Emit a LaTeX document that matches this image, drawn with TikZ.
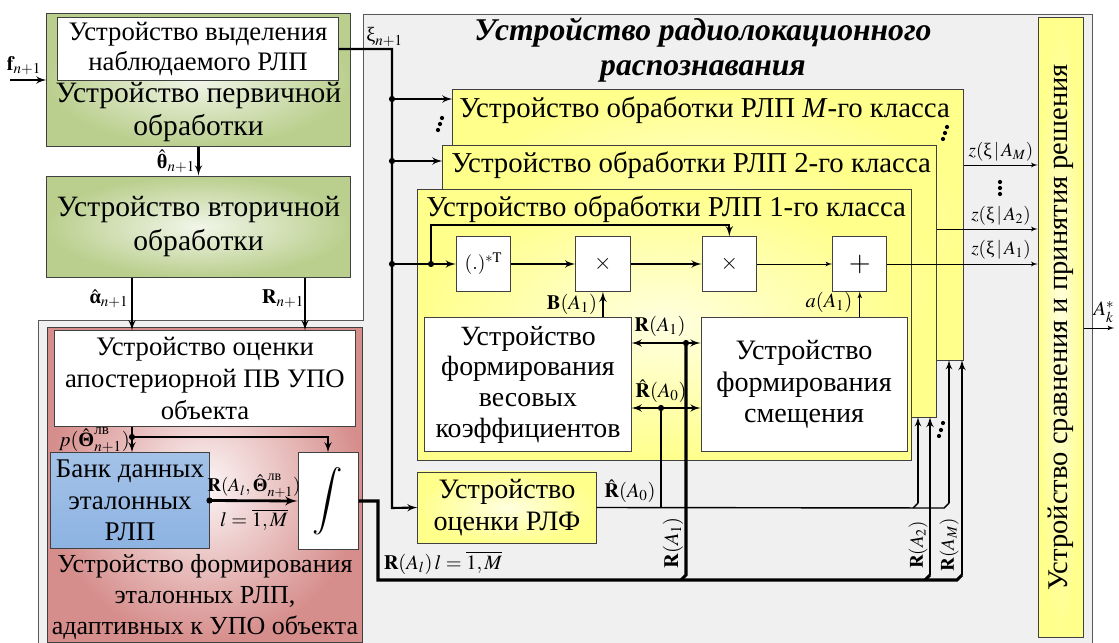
\documentclass[tikz,border=0pt]{standalone}
\usepackage{amsmath}
\usepackage{mathptmx}
\usepackage{fontspec}
\setmainfont{Liberation Serif}
\usetikzlibrary{arrows, calc, positioning}
\definecolor{greenedge}{HTML}{BACF8E}
\definecolor{pinkedge}{HTML}{D68E8C}
\definecolor{bankblue}{HTML}{8DB3E2}
\definecolor{yeledge}{HTML}{FFFF8C}
\definecolor{framegray}{HTML}{F0F0F0}
\tikzstyle{outerframe} = [draw=black!65, fill=framegray, line width=0.7pt]
\tikzstyle{block} = [rectangle, draw=black!75, line width=0.7pt, align=center, inner sep=1pt, font=\fontsize{20}{22.5}\selectfont]
\tikzstyle{greenbox} = [block, inner color=white!80!greenedge, outer color=greenedge]
\tikzstyle{pinkbox} = [block, inner color=white!92!pinkedge, outer color=pinkedge]
\tikzstyle{yelbox} = [block, inner color=white!88!yellow, outer color=yeledge]
\tikzstyle{bankbox} = [block, top color=bankblue!80, bottom color=bankblue]
\tikzstyle{whitebox} = [block, fill=white]
\tikzstyle{opbox} = [rectangle, draw=black!75, line width=0.7pt, fill=white, minimum size=1.36cm, inner sep=0pt]
\tikzstyle{txt} = [align=center, inner sep=0pt, font=\fontsize{20}{22.5}\selectfont]
\tikzstyle{hdr} = [anchor=base west, inner sep=0pt, font=\fontsize{20.5}{22.5}\selectfont]
\tikzstyle{ttl} = [align=center, inner sep=0pt, font=\fontsize{22.5}{25.5}\selectfont\bfseries\itshape]
\tikzstyle{lab} = [inner sep=0pt, font=\fontsize{14.5}{17}\selectfont]
\tikzstyle{smalllab} = [inner sep=0pt, font=\fontsize{13.5}{15}\selectfont]
\tikzstyle{line} = [draw, -latex', line width=1.5pt]
\tikzstyle{thinline} = [draw, -latex', line width=0.6pt]
\tikzstyle{bus} = [draw, line width=2.2pt]
\begin{document}
\begin{tikzpicture}[x=0.025cm, y=-0.025cm]
    \useasboundingbox (0,0) rectangle (1119,643);

    % big frame of the recognition device
    \path[outerframe] (38,320) -- (363,320) -- (363,14) -- (1092,14) -- (1092,660) -- (38,660) -- cycle;
    \node[ttl] (title) at (703,50) {Устройство радиолокационного\\распознавания};

    % primary and secondary processing
    \node[greenbox, minimum width=7.575cm, minimum height=3.3cm] (prim) at (198.5,80) {};
    \node[whitebox, minimum width=7cm, minimum height=1.55cm, font=\fontsize{19}{21.3}\selectfont] (sel) at (198,49) {Устройство выделения\\наблюдаемого РЛП};
    \node[txt, font=\fontsize{21}{24}\selectfont] (primtxt) at (198.5,112) {Устройство первичной\\обработки};
    \node[greenbox, minimum width=7.575cm, minimum height=2.525cm, below=0.725cm of prim, font=\fontsize{21}{24}\selectfont] (sec) {Устройство вторичной\\обработки};

    % reference images
    \node[pinkbox, minimum width=7.85cm, minimum height=7.85cm] (adapt) at (205,485) {};
    \node[whitebox, minimum width=7.5cm, minimum height=2.375cm, font=\fontsize{19}{23}\selectfont] (post) at (205,378.5) {Устройство оценки\\апостериорной ПВ УПО\\объекта};
    \node[bankbox, minimum width=3.95cm, minimum height=2.375cm, font=\fontsize{19.2}{22.5}\selectfont] (bank) at (130,500.5) {Банк данных\\эталонных\\РЛП};
    \node[whitebox, minimum width=1.5cm, minimum height=2.4cm, font=\fontsize{24}{24}\selectfont] (integ) at (328,501) {$\displaystyle\int$};
    \node[txt, font=\fontsize{18.5}{22}\selectfont] (adapttxt) at (205,597) {Устройство формирования\\эталонных РЛП,\\адаптивных к УПО объекта};

    % class processing devices
    \node[yelbox, minimum width=12.75cm, minimum height=6.75cm] (clsM) at (708,225) {};
    \node[hdr] (hdrM) at (459,118) {Устройство обработки РЛП \textit{M}-го класса};
    \node[yelbox, minimum width=12.325cm, minimum height=6.775cm] (cls2) at (689.5,281.5) {};
    \node[hdr] (hdr2) at (451,173) {Устройство обработки РЛП 2-го класса};
    \node[yelbox, minimum width=12.325cm, minimum height=6.75cm] (cls1) at (664.5,325) {};
    \node[hdr] (hdr1) at (426,217) {Устройство обработки РЛП 1-го класса};

    \node[opbox] (conj) at (483.5,264) {\fontsize{14}{14}\selectfont$(.)^{*\mathrm{T}}$};
    \node[opbox, right=1.6cm of conj] (mul1) {\fontsize{16}{16}\selectfont$\times$};
    \node[opbox, right=1.775cm of mul1] (mul2) {\fontsize{16}{16}\selectfont$\times$};
    \node[opbox, right=1.875cm of mul2] (plus) {\fontsize{20}{20}\selectfont$+$};
    \node[whitebox, minimum width=5.15cm, minimum height=3.325cm, font=\fontsize{19.8}{21.8}\selectfont] (wgt) at (528,384.5) {Устройство\\формирования\\весовых\\коэффициентов};
    \node[whitebox, minimum width=5.15cm, minimum height=3.325cm, right=1.725cm of wgt] (bias) {Устройство\\формирования\\смещения};
    \node[yelbox, minimum width=4.45cm, minimum height=1.775cm] (rlf) at (507,507.5) {Устройство\\оценки РЛФ};

    % decision
    \node[yelbox, minimum width=1.125cm, minimum height=15.475cm] (dec) at (1060.5,327.5) {};
    \node[txt, rotate=90, font=\fontsize{20.3}{22}\selectfont] (dectxt) at (dec.center) {Устройство сравнения и принятия решения};

    \coordinate (fin) at (10,80);
    \coordinate (xi) at (392,49);
    \coordinate (bM) at (392,99);
    \coordinate (b2) at (392,161);
    \coordinate (b1) at (392,264);
    \coordinate (bR) at (392,508);
    \coordinate (fb) at (431,264);
    \coordinate (fbup) at (431,225);
    \coordinate (xa) at (132,0);
    \coordinate (xr) at (305,0);
    \coordinate (pdot) at (132,437);
    \coordinate (pint) at (328,437);
    \coordinate (r1) at (686,343);
    \coordinate (r0) at (661,408);
    \coordinate (out) at (1114,328);

    % inputs
    \path[line] (fin) -- (prim.west);
    \node[lab] (flab) at (24,66) {$\mathbf{f}_{n+1}$};
    \path[line] (prim.south) -- (sec.north);
    \node[lab] (thlab) at (176,161) {$\hat{\text{\bfseries θ}}_{n+1}$};
    \path[line] (sec.south -| xa) -- (post.north -| xa);
    \path[line] (sec.south -| xr) -- (post.north -| xr);
    \node[lab] (alab) at (109,299) {$\hat{\text{\bfseries α}}_{n+1}$};
    \node[lab] (rlab) at (283,299) {$\mathbf{R}_{n+1}$};

    \path[line] (post.south -| xa) -- (bank.north -| xa);
    \path[line] (pdot) -- (pint) -- (integ.north);
    \fill (pdot) circle (2.2pt);
    \node[lab, anchor=east] (plab) at (130,440) {$p(\hat{\text{\bfseries Θ}}^{\text{лв}}_{n+1})$};
    \path[line, line width=2pt] (bank.east) -- (integ.west);
    \fill (bank.east) circle (2.2pt);
    \node[smalllab] (rthlab) at (254,486) {$\mathbf{R}(A_l,\hat{\text{\bfseries Θ}}^{\text{лв}}_{n+1})$};
    \node[lab] (llab) at (254,520) {$l=\overline{1,M}$};

    % observed image
    \path[line] (sel.east) -- (xi) -- (bR) -- (rlf.west);
    \node[lab, anchor=west] (xilab) at (366,37) {ξ$_{n+1}$};
    \path[line] (bM) -- (clsM.west |- bM);
    \path[line] (b2) -- (cls2.west |- b2);
    \path[line] (b1) -- (conj.west);
    \foreach \p in {bM, b2, b1, fb} \fill (\p) circle (2.2pt);
    \path[line] (fb) -- (fbup) -- (fbup -| mul2.north) -- (mul2.north);
    \path[line] (conj) -- (mul1);
    \path[line] (mul1) -- (mul2);
    \path[thinline] (mul2) -- (plus);
    \path[line] (mul1.south |- wgt.north) -- (mul1.south);
    \node[lab] (blab) at (572,304) {$\mathbf{B}(A_1)$};
    \path[thinline] (plus.south |- bias.north) -- (plus.south);
    \node[lab] (alab1) at (829,302) {$a(A_1)$};
    \path[line, latex'-latex'] (wgt.east |- r1) -- (bias.west |- r1);
    \path[line, latex'-latex'] (wgt.east |- r0) -- (bias.west |- r0);
    \fill (r1) circle (2.2pt);
    \fill (r0) circle (2.2pt);
    \node[lab] (r1lab) at (660,326) {$\mathbf{R}(A_1)$};
    \node[lab] (r0lab) at (661,391) {$\hat{\mathbf{R}}(A_0)$};

    % outputs
    \path[thinline] (plus.east) -- (dec.west |- plus.east);
    \path[thinline] (clsM.east |- 0,165) -- (dec.west |- 0,165);
    \path[thinline] (cls2.east |- 0,229) -- (dec.west |- 0,229);
    \node[smalllab] (zM) at (1001,152) {$z(\text{ξ}\,|\,A_M)$};
    \node[smalllab] (z2) at (1001,216) {$z(\text{ξ}\,|\,A_2)$};
    \node[smalllab] (z1) at (1001,250) {$z(\text{ξ}\,|\,A_1)$};
    \path[thinline] (dec.east |- out) -- (out);
    \node[lab] (aklab) at (1104,312) {$A_k^*$};

    % estimate of the background
    \path[draw, line width=1pt] (rlf.east) -- (944,508) -- (949,503);
    \path[line, line width=1.3pt] (949,503) -- (949,360);
    \path[draw, line width=1pt] (913,508) -- (918,503);
    \path[line, line width=1.3pt] (918,503) -- (918,417);
    \path[draw, line width=1.8pt] (r0) -- (661,508);
    \node[lab] (r0bus) at (630,491) {$\hat{\mathbf{R}}(A_0)$};

    % reference images bus
    \path[bus] (integ.east) -- (378,501) -- (378,580) -- (957,580) -- (962,575);
    \path[line] (962,575) -- (962,360);
    \path[bus] (925,580) -- (930,575);
    \path[line] (930,575) -- (930,417);
    \path[bus] (681,580) -- (686,575) -- (r1);
    \node[lab] (rlbus) at (443,563) {$\mathbf{R}(A_l)\,l=\overline{1,M}$};
    \node[lab, rotate=90] (ra1) at (673,543) {$\mathbf{R}(A_1)$};
    \node[smalllab, rotate=90] (ra2) at (918,545) {$\mathbf{R}(A_2)$};
    \node[smalllab, rotate=90] (ram) at (949,545) {$\mathbf{R}(A_M)$};

    % dots
    \foreach \x/\y in {442/118, 440/124, 438/130, 947/127, 945/133, 943/139, 943/423, 941/430, 939/436, 1000/182, 1000/188, 1000/194}
        \fill (\x,\y) circle (1.5pt);
\end{tikzpicture}
\end{document}
